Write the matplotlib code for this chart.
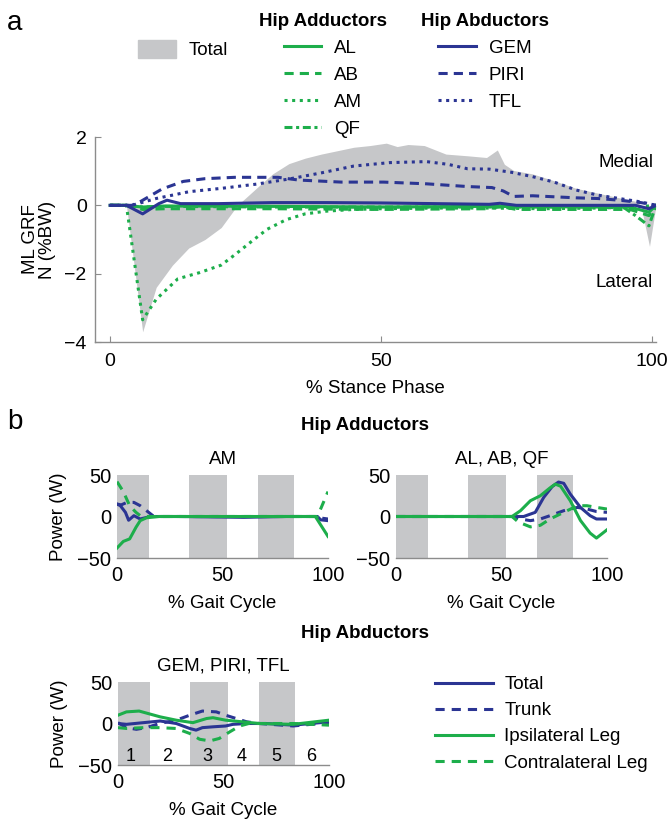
import matplotlib
matplotlib.use('Agg')
import matplotlib.pyplot as plt
from matplotlib.lines import Line2D
from matplotlib.patches import Patch

plt.rcParams['font.family'] = ['Liberation Sans', 'DejaVu Sans']
plt.rcParams['font.size'] = 13.5

# ---------------- panel a : ML GRF over stance ----------------
total_x = [0, 3, 6, 8.5, 11.5, 14.5, 17.5, 20.5, 23.5, 27, 30, 33, 36, 39, 42, 45, 48, 51,
           53, 55, 58, 62, 66, 69.5, 71.5, 72.8, 74.5, 78, 82, 86, 90, 94, 97, 98, 99.6, 100.8]
total_y = [0, 0, -3.7, -2.4, -1.75, -1.25, -1.0, -0.65, 0.0, 0.5, 0.92, 1.22, 1.38, 1.5, 1.6,
           1.7, 1.75, 1.82, 1.72, 1.78, 1.75, 1.5, 1.45, 1.4, 1.62, 1.2, 1.02, 0.92, 0.72, 0.5,
           0.36, 0.22, 0.12, 0.0, -1.2, 0]

al_x = [0, 3, 6, 10, 30, 50, 70, 90, 96, 99.5, 100.8]
al_y = [0, 0, -0.05, -0.02, -0.03, -0.05, -0.03, -0.05, -0.05, -0.2, 0]
ab_x = [0, 3, 6, 10, 30, 50, 70, 72, 75, 90, 96, 99.5, 100.8]
ab_y = [0, 0, -0.12, -0.1, -0.1, -0.12, -0.1, -0.03, -0.12, -0.12, -0.12, -0.3, 0]
am_x = [0, 3, 6, 8.5, 12.5, 16.5, 20.5, 23, 26, 29, 32.5, 36, 40, 45, 50, 60, 70, 80, 90, 97, 100.8]
am_y = [0, 0, -3.35, -2.75, -2.15, -1.97, -1.75, -1.45, -1.07, -0.7, -0.42, -0.25, -0.17,
        -0.12, -0.1, -0.08, -0.08, -0.1, -0.08, -0.05, 0]
qf_x = [0, 3, 6, 10, 30, 50, 70, 90, 95, 97, 99.5, 100.8]
qf_y = [0, 0, -0.05, -0.03, -0.05, -0.05, -0.05, -0.05, -0.08, -0.3, -0.6, 0]

gem_x = [0, 3, 6, 9, 10.5, 13, 20, 30, 40, 50, 60, 70, 72, 75, 90, 97, 99.5, 100.8]
gem_y = [0, 0, -0.25, 0.05, 0.15, 0.05, 0.05, 0.08, 0.08, 0.07, 0.05, 0.03, 0.06, 0.0, 0.0,
         0.0, -0.1, 0]
piri_x = [0, 4, 5.7, 9.6, 13.5, 17.5, 23, 31, 34.8, 42.7, 50.5, 58.4, 66, 70.5, 72.6, 74.5,
          78, 82, 86, 90, 94, 98, 100.8]
piri_y = [0, 0, 0.12, 0.48, 0.7, 0.78, 0.82, 0.82, 0.74, 0.68, 0.68, 0.63, 0.55, 0.52, 0.42,
          0.26, 0.28, 0.25, 0.22, 0.2, 0.15, 0.08, 0]
tfl_x = [0, 4, 8.5, 14.6, 20.7, 27, 33, 39, 45, 51.6, 58.4, 62.4, 66, 70, 74, 78, 82, 86, 90,
         94, 98, 100.8]
tfl_y = [0, 0, 0.2, 0.4, 0.5, 0.62, 0.77, 0.95, 1.15, 1.25, 1.28, 1.2, 1.07, 1.06, 0.97, 0.84,
         0.68, 0.45, 0.3, 0.2, 0.1, 0]

# ---------------- panel b : power over gait cycle ----------------
bands = [(0, 15), (34, 52), (67, 84)]
phase_labels = ['1', '2', '3', '4', '5', '6']
phase_x = [6, 23.5, 42.5, 58.5, 75, 91.5]

am_tot_x = [0, 1.6, 4, 5.5, 8, 11, 13.4, 16, 30, 60, 80, 95, 96.5, 100]
am_tot_y = [15, 13, 5, -4.5, 1, -3, -1.5, 0, 0, -1, 0, 0, -4, -5]
am_tr_x = [0, 2, 4.7, 8, 11, 14, 17, 20, 50, 95, 97, 100]
am_tr_y = [15, 14, 17, 17, 13, 7, 1, 0, 0, 0, -2, -3]
am_ip_x = [0, 3, 6, 9, 11, 14, 20, 50, 94, 100]
am_ip_y = [-38, -30, -27, -13, -5, -1.5, 0, 0, 0, -24]
am_co_x = [0, 3, 6, 9, 11, 14, 20, 50, 95, 100]
am_co_y = [42, 30, 13, 5, 1, 0, 0, 0, 0, 30]

al_tot_x = [0, 55, 60.5, 66, 70, 74, 77, 79.5, 82.6, 87.4, 92, 95, 100]
al_tot_y = [0, 0, 0, 5, 23, 36, 41.5, 40, 27, 11, 1, -3, -3]
al_tr_x = [0, 55, 59, 63.7, 68.4, 73, 79.5, 86, 90.5, 95, 100]
al_tr_y = [0, 0, -3, -5, -3, 1, 7, 11, 9, 6, 5]
al_ip_x = [0, 55, 59, 63.7, 68.4, 73, 75.5, 78, 82.6, 87.4, 92, 95, 100]
al_ip_y = [0, 0, 7, 19, 25, 34.5, 39, 36.5, 19, -4.7, -20, -26, -16]
al_co_x = [0, 55, 58, 63.7, 68.4, 73, 79.5, 86, 90.5, 95, 100]
al_co_y = [0, 0, -6.7, -12.5, -10.6, -3, 5, 13, 13, 11, 9]

gm_tot_x = [0, 4, 12, 20, 27.6, 34, 37, 40, 45, 51, 54.5, 61, 70, 83, 100]
gm_tot_y = [0, -1, 1, 3, 0, -6, -8, -5, -4, -3, -1, 0, 0, -2, 2]
gm_tr_x = [0, 4, 8.7, 13.4, 19.7, 27.6, 34, 40, 46.6, 51, 56, 61, 67, 83, 100]
gm_tr_y = [1, -5, -7, -5, 0, 4, 10, 15, 14, 10, 6, 2, 0, -3, 1]
gm_ip_x = [0, 4, 10, 20, 27.6, 35.5, 42, 45, 51, 59, 67, 83, 100]
gm_ip_y = [10, 14, 15, 8, 4, 1, 6, 7, 4, 2, 0, -1, 4]
gm_co_x = [0, 4, 12, 19.7, 27.6, 34, 38.7, 43.5, 48, 53, 57.7, 62, 83, 100]
gm_co_y = [-5, -6, -5, -5, -6, -12, -19, -21, -18, -10, -3, 0, 0, -2]

GREEN = '#1DAE4B'
BLUE = '#2B3593'
GRAY = '#C6C7C9'
AXC = '#8C8C8C'
LW = 2.2
DASH = (0, (3, 2))
DOT = (0, (1, 1.5))
DASHDOT = (0, (2.6, 1.2, 1, 1.2))
BDASH = (0, (3, 2.3))

W, H = 670, 822
fig = plt.figure(figsize=(6.7, 8.22), dpi=100)


def box(l, t, r, b):
    return [l / W, 1 - b / H, (r - l) / W, (b - t) / H]


def style_axes(ax, hide_left=False):
    for s in ['top', 'right']:
        ax.spines[s].set_visible(False)
    for s in ['left', 'bottom']:
        ax.spines[s].set_color(AXC)
        ax.spines[s].set_linewidth(1)
    if hide_left:
        ax.spines['left'].set_visible(False)


# ---- panel a ----
axa = fig.add_axes(box(95, 137, 656, 342))
axa.fill_between(total_x, 0, total_y, color=GRAY, lw=0, zorder=1)
axa.plot(al_x, al_y, color=GREEN, lw=LW, ls='-')
axa.plot(ab_x, ab_y, color=GREEN, lw=LW, ls=DASH)
axa.plot(am_x, am_y, color=GREEN, lw=LW, ls=DOT)
axa.plot(qf_x, qf_y, color=GREEN, lw=LW, ls=DASHDOT)
axa.plot(gem_x, gem_y, color=BLUE, lw=LW, ls='-')
axa.plot(piri_x, piri_y, color=BLUE, lw=LW, ls=DASH)
axa.plot(tfl_x, tfl_y, color=BLUE, lw=LW, ls=DOT)
axa.set_xlim(-2.8, 100.8)
axa.set_ylim(-4, 2)
axa.set_xticks([0, 50, 100])
axa.set_yticks([-4, -2, 0, 2])
axa.tick_params(direction='in', length=4, color=AXC, labelsize=14, pad=6)
axa.tick_params(axis='x', pad=8)
style_axes(axa)
axa.set_xlabel('% Stance Phase', fontsize=13.5, labelpad=7)
axa.set_ylabel('ML GRF\nN (%BW)', fontsize=13.5, linespacing=1.0)
axa.yaxis.set_label_coords(-0.07, 0.5)
axa.text(0.995, 0.875, 'Medial', transform=axa.transAxes, ha='right', va='center', fontsize=13.5)
axa.text(0.995, 0.29, 'Lateral', transform=axa.transAxes, ha='right', va='center', fontsize=13.5)

fig.text(15 / W, 1 - 23 / H, 'a', fontsize=20, ha='center', va='center')

leg_kw = dict(frameon=False, borderpad=0, borderaxespad=0, fontsize=13.5, handlelength=2.0,
              handletextpad=0.7, labelspacing=0.52,
              title_fontproperties={'weight': 'bold', 'size': 13.5})
h_add = [Line2D([], [], color=GREEN, lw=LW, ls=s) for s in ['-', DASH, DOT, DASHDOT]]
h_abd = [Line2D([], [], color=BLUE, lw=LW, ls=s) for s in ['-', DASH, DOT]]
fig.legend([Patch(color=GRAY)], ['Total'], loc='upper center',
           bbox_to_anchor=(183 / W, 1 - 13 / H), title=' ', handleheight=1.1, **leg_kw)
fig.legend(h_add, ['AL', 'AB', 'AM', 'QF'], loc='upper center',
           bbox_to_anchor=(323 / W, 1 - 13 / H), title='Hip Adductors', **leg_kw)
fig.legend(h_abd, ['GEM', 'PIRI', 'TFL'], loc='upper center',
           bbox_to_anchor=(485 / W, 1 - 13 / H), title='Hip Abductors', **leg_kw)

# ---- panel b ----
fig.text(15 / W, 1 - 422 / H, 'b', fontsize=20, ha='center', va='center')
fig.text(365 / W, 1 - 425 / H, 'Hip Adductors', fontsize=13.5, fontweight='bold', ha='center', va='center')
fig.text(365 / W, 1 - 633 / H, 'Hip Abductors', fontsize=13.5, fontweight='bold', ha='center', va='center')

panels = [
    (box(117, 475, 328, 558), 'AM', True,
     [(am_tot_x, am_tot_y), (am_tr_x, am_tr_y), (am_ip_x, am_ip_y), (am_co_x, am_co_y)]),
    (box(396, 475, 607, 558), 'AL, AB, QF', False,
     [(al_tot_x, al_tot_y), (al_tr_x, al_tr_y), (al_ip_x, al_ip_y), (al_co_x, al_co_y)]),
    (box(118, 682, 329, 765), 'GEM, PIRI, TFL', True,
     [(gm_tot_x, gm_tot_y), (gm_tr_x, gm_tr_y), (gm_ip_x, gm_ip_y), (gm_co_x, gm_co_y)]),
]
series_style = [(BLUE, '-'), (BLUE, BDASH), (GREEN, '-'), (GREEN, BDASH)]

for i, (rect, title, show_ylabel, series) in enumerate(panels):
    ax = fig.add_axes(rect)
    for b0, b1 in bands:
        ax.axvspan(b0, b1, color=GRAY, lw=0, zorder=0)
    for (xs, ys), (c, ls) in zip(series, series_style):
        ax.plot(xs, ys, color=c, ls=ls, lw=LW)
    ax.set_xlim(0, 100)
    ax.set_ylim(-50, 50)
    ax.set_xticks([0, 50, 100])
    ax.set_yticks([-50, 0, 50])
    ax.tick_params(length=0, labelsize=14.5, pad=4)
    ax.tick_params(axis='x', pad=6)
    style_axes(ax, hide_left=True)
    ax.set_title(title, fontsize=13.5, pad=8)
    ax.set_xlabel('% Gait Cycle', fontsize=13.5, labelpad=7)
    if show_ylabel:
        ax.set_ylabel('Power (W)', fontsize=13.5)
        ax.yaxis.set_label_coords(-0.235, 0.5)
    if i == 2:
        for lab, px in zip(phase_labels, phase_x):
            ax.text(px, -40, lab, ha='center', va='center', fontsize=13)

h_b = [Line2D([], [], color=c, lw=LW, ls=ls) for c, ls in series_style]
fig.legend(h_b, ['Total', 'Trunk', 'Ipsilateral Leg', 'Contralateral Leg'], loc='upper left',
           bbox_to_anchor=(435 / W, 1 - 676 / H), frameon=False, borderpad=0, borderaxespad=0,
           fontsize=13.5, handlelength=3.1, handletextpad=0.6, labelspacing=0.48)

fig.savefig('out.png', dpi=100)
